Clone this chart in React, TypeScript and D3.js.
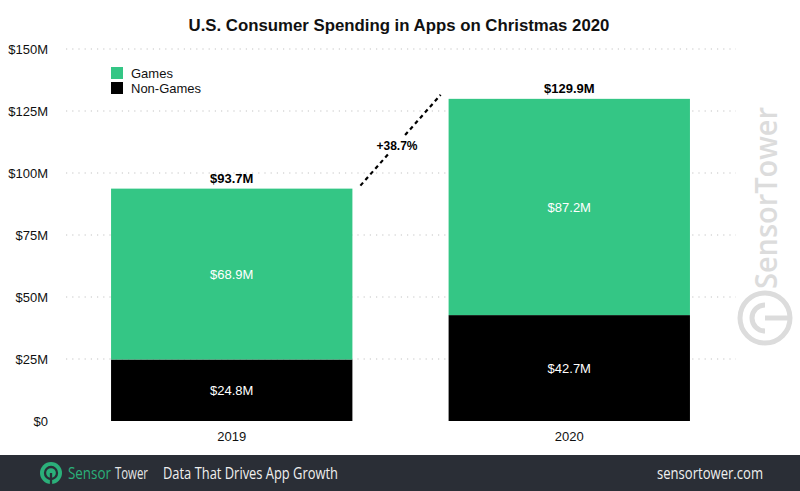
import React, { useEffect, useRef } from "react";
import * as d3 from "d3";

const years = ["2019", "2020"];
const nonGames = [24.8, 42.7];
const games = [68.9, 87.2];
const totals = [93.7, 129.9];
const growthLabel = "+38.7%";
const yTicks = [0, 25, 50, 75, 100, 125, 150];

const GREEN = "#34c685";
const FONT = "'Liberation Sans', Arial, Helvetica, sans-serif";

const App = () => {
  const svgRef = useRef<SVGSVGElement>(null);

  useEffect(() => {
    if (!svgRef.current) return;
    const svg = d3.select(svgRef.current);
    svg.selectAll("*").remove();
    const width = 800;
    const height = 491;

    svg.append("rect").attr("width", width).attr("height", height).attr("fill", "#fff");

    const y = d3.scaleLinear().domain([0, 150]).range([421, 49]);
    const x = d3.scaleBand().domain(years).range([77.3, 723.7]).paddingInner(0.285).paddingOuter(0.1);

    // title
    svg
      .append("text")
      .attr("x", 399)
      .attr("y", 31)
      .attr("text-anchor", "middle")
      .attr("font-family", FONT)
      .attr("font-weight", "bold")
      .attr("font-size", 16.8)
      .attr("fill", "#111")
      .text("U.S. Consumer Spending in Apps on Christmas 2020");

    // grid + y labels
    const grid = svg.append("g");
    yTicks.forEach((t) => {
      if (t > 0) {
        grid
          .append("line")
          .attr("x1", 66)
          .attr("x2", 736)
          .attr("y1", y(t))
          .attr("y2", y(t))
          .attr("stroke", "#c4c4c4")
          .attr("stroke-width", 1.2)
          .attr("stroke-dasharray", "1.2,5");
      }
      grid
        .append("text")
        .attr("x", 48)
        .attr("y", y(t) + 5)
        .attr("text-anchor", "end")
        .attr("font-family", FONT)
        .attr("font-size", 13)
        .attr("fill", "#111")
        .text(t === 0 ? "$0" : `$${t}M`);
    });

    // watermark
    const wm = svg.append("g").attr("fill", "#dcdcdc");
    wm.append("text")
      .attr("transform", "translate(777,289) rotate(-90)")
      .attr("font-family", "'Open Sans', sans-serif")
      .attr("font-weight", 600)
      .attr("font-size", 31)
      .attr("textLength", 182)
      .attr("lengthAdjust", "spacingAndGlyphs")
      .text("SensorTower");
    wm.append("circle")
      .attr("cx", 765)
      .attr("cy", 318)
      .attr("r", 25)
      .attr("fill", "none")
      .attr("stroke", "#dcdcdc")
      .attr("stroke-width", 5);
    wm.append("path")
      .attr("d", "M752,318 A13,13 0 1 1 778,318")
      .attr("fill", "none")
      .attr("stroke", "#dcdcdc")
      .attr("stroke-width", 5)
      .attr("transform", "rotate(-90 765 318)");
    wm.append("line")
      .attr("x1", 765)
      .attr("x2", 790)
      .attr("y1", 318)
      .attr("y2", 318)
      .attr("stroke", "#dcdcdc")
      .attr("stroke-width", 5);

    // bars
    const bars = svg.append("g");
    years.forEach((yr, i) => {
      const bx = x(yr)!;
      const bw = x.bandwidth();
      bars.append("rect")
        .attr("x", bx)
        .attr("y", y(nonGames[i]))
        .attr("width", bw)
        .attr("height", y(0) - y(nonGames[i]))
        .attr("fill", "#000");
      bars.append("rect")
        .attr("x", bx)
        .attr("y", y(totals[i]))
        .attr("width", bw)
        .attr("height", y(nonGames[i]) - y(totals[i]))
        .attr("fill", GREEN);
      const cx = bx + bw / 2;
      bars.append("text")
        .attr("x", cx)
        .attr("y", y(nonGames[i] / 2) + 5)
        .attr("text-anchor", "middle")
        .attr("font-family", FONT)
        .attr("font-size", 13)
        .attr("fill", "#fff")
        .text(`$${nonGames[i].toFixed(1)}M`);
      bars.append("text")
        .attr("x", cx)
        .attr("y", y(nonGames[i] + games[i] / 2) + 5)
        .attr("text-anchor", "middle")
        .attr("font-family", FONT)
        .attr("font-size", 13)
        .attr("fill", "#fff")
        .text(`$${games[i].toFixed(1)}M`);
      bars.append("text")
        .attr("x", cx)
        .attr("y", y(totals[i]) - 6)
        .attr("text-anchor", "middle")
        .attr("font-family", FONT)
        .attr("font-weight", "bold")
        .attr("font-size", 13)
        .attr("fill", "#000")
        .text(`$${totals[i].toFixed(1)}M`);
      bars.append("text")
        .attr("x", cx)
        .attr("y", 441)
        .attr("text-anchor", "middle")
        .attr("font-family", FONT)
        .attr("font-size", 13)
        .attr("fill", "#111")
        .text(yr);
    });

    // growth connector
    const x1 = x(years[0])! + x.bandwidth() + 8;
    const x2 = x(years[1])! - 8;
    svg.append("line")
      .attr("x1", x1)
      .attr("y1", y(totals[0]) - 3)
      .attr("x2", x2)
      .attr("y2", y(totals[1]) - 4)
      .attr("stroke", "#000")
      .attr("stroke-width", 2.2)
      .attr("stroke-dasharray", "4,3.5");
    svg.append("rect")
      .attr("x", 373)
      .attr("y", 136)
      .attr("width", 48)
      .attr("height", 17)
      .attr("fill", "#fff");
    svg.append("text")
      .attr("x", 397)
      .attr("y", 150)
      .attr("text-anchor", "middle")
      .attr("font-family", FONT)
      .attr("font-weight", "bold")
      .attr("font-size", 12)
      .attr("fill", "#000")
      .text(growthLabel);

    // legend
    const legend = svg.append("g");
    [
      { label: "Games", color: GREEN },
      { label: "Non-Games", color: "#000" },
    ].forEach((d, i) => {
      legend.append("rect")
        .attr("x", 111)
        .attr("y", 67 + i * 15)
        .attr("width", 12)
        .attr("height", 12)
        .attr("fill", d.color);
      legend.append("text")
        .attr("x", 131)
        .attr("y", 78 + i * 15)
        .attr("font-family", FONT)
        .attr("font-size", 13)
        .attr("fill", "#111")
        .text(d.label);
    });

    // footer
    const footer = svg.append("g");
    footer.append("rect").attr("x", 0).attr("y", 455).attr("width", width).attr("height", 36).attr("fill", "#2a2e36");
    footer.append("circle").attr("cx", 51).attr("cy", 473).attr("r", 11).attr("fill", "#2bb07a");
    footer.append("circle").attr("cx", 51).attr("cy", 473).attr("r", 6).attr("fill", "none").attr("stroke", "#2a2e36").attr("stroke-width", 2.3);
    footer.append("line").attr("x1", 51).attr("x2", 51).attr("y1", 473).attr("y2", 485).attr("stroke", "#2a2e36").attr("stroke-width", 2.3);
    footer.append("text")
      .attr("x", 68)
      .attr("y", 479)
      .attr("font-family", "'Open Sans', sans-serif")
      .attr("font-size", 16)
      .attr("textLength", 43)
      .attr("lengthAdjust", "spacingAndGlyphs")
      .attr("fill", "#2bb07a")
      .text("Sensor");
    footer.append("text")
      .attr("x", 115)
      .attr("y", 479)
      .attr("font-family", "'Open Sans', sans-serif")
      .attr("font-size", 16)
      .attr("textLength", 33)
      .attr("lengthAdjust", "spacingAndGlyphs")
      .attr("fill", "#e6e6e6")
      .text("Tower");
    footer.append("text")
      .attr("x", 163)
      .attr("y", 479)
      .attr("font-family", "'Open Sans', sans-serif")
      .attr("font-size", 16)
      .attr("textLength", 175)
      .attr("lengthAdjust", "spacingAndGlyphs")
      .attr("fill", "#f0f0f0")
      .text("Data That Drives App Growth");
    footer.append("text")
      .attr("x", 763)
      .attr("y", 479)
      .attr("text-anchor", "end")
      .attr("font-family", "'Open Sans', sans-serif")
      .attr("font-size", 16)
      .attr("textLength", 106)
      .attr("lengthAdjust", "spacingAndGlyphs")
      .attr("fill", "#f0f0f0")
      .text("sensortower.com");
  }, []);

  return (
    <svg
      ref={svgRef}
      width={800}
      height={491}
      style={{ position: "absolute", left: 0, top: 0, display: "block" }}
    />
  );
};

export default App;
